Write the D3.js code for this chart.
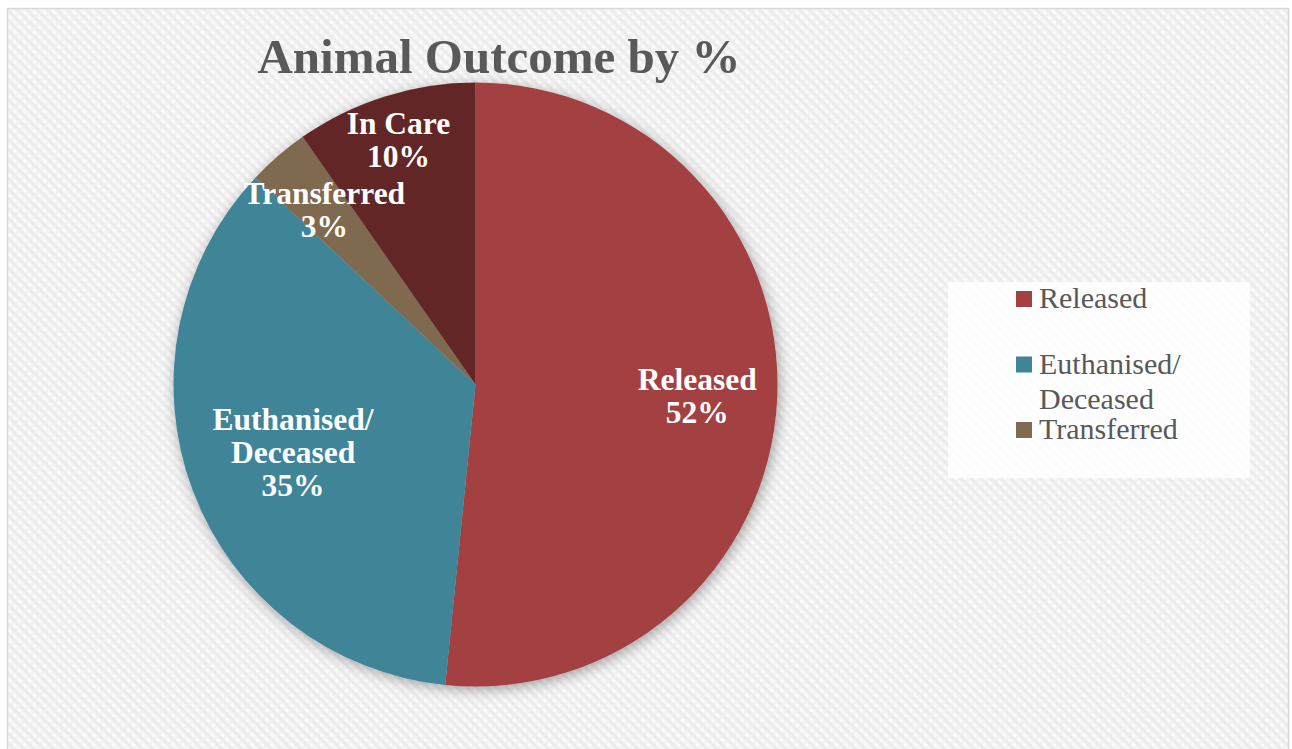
<!DOCTYPE html>
<html><head><meta charset="utf-8">
<script src="https://cdn.jsdelivr.net/npm/d3@7"></script>
<style>html,body{margin:0;padding:0;background:#fff;overflow:hidden}svg{display:block}</style>
</head><body>
<script>
const categories = ["Released", "Euthanised/ Deceased", "Transferred", "In Care"];
const values = [51.6, 35.4, 3.3, 9.7];
const percentLabels = ["52%", "35%", "3%", "10%"];
const legendCategories = ["Released", "Euthanised/ Deceased", "Transferred"];
const colors = ["#a34142", "#418498", "#806a50", "#622826"];
const labelRadiusFactor = [0.735, 0.645, 0.765, 0.85];
const title = "Animal Outcome by %";

const W = 1292, H = 749;
const FONT = "'Liberation Serif', 'DejaVu Serif', serif";
const svg = d3.select("body").append("svg").attr("width", W).attr("height", H);
const defs = svg.append("defs");
const splitName = s => s.split(/(?<=\/)\s+/);

// background carbon-like diagonal pattern
const pat = defs.append("pattern").attr("id", "bg").attr("patternUnits", "userSpaceOnUse")
  .attr("width", 7).attr("height", 7).attr("patternTransform", "rotate(45)");
pat.append("rect").attr("width", 7).attr("height", 7).attr("fill", "#fbfbfb");
pat.append("rect").attr("width", 7).attr("height", 3.5).attr("fill", "#ececec");
pat.append("rect").attr("x", 0).attr("y", 3.5).attr("width", 3.5).attr("height", 3.5).attr("fill", "#f4f4f4");

const filt = defs.append("filter").attr("id", "shadow").attr("x", "-20%").attr("y", "-20%").attr("width", "140%").attr("height", "140%");
filt.append("feDropShadow").attr("dx", 2).attr("dy", 3).attr("stdDeviation", 7)
  .attr("flood-color", "#000").attr("flood-opacity", 0.35);

svg.append("rect").attr("x", 7.5).attr("y", 8.5).attr("width", 1281).attr("height", 780)
  .attr("fill", "url(#bg)").attr("stroke", "#d9d9d9").attr("stroke-width", 1.5);

// title
svg.append("text").attr("x", 499).attr("y", 73).attr("text-anchor", "middle")
  .attr("font-family", FONT).attr("font-weight", "bold").attr("font-size", 49)
  .attr("fill", "#595959").text(title);

// pie
const cx = 475.5, cy = 384.5, R = 302;
const color = d3.scaleOrdinal().domain(categories).range(colors);
const pie = d3.pie().sort(null).value(d => d.value).startAngle(0).endAngle(2 * Math.PI);
const data = categories.map((c, i) => ({ name: c, value: values[i], pct: percentLabels[i], rf: labelRadiusFactor[i] }));
const arcs = pie(data);
const arc = d3.arc().innerRadius(0).outerRadius(R);

const g = svg.append("g").attr("transform", `translate(${cx},${cy})`);
g.append("g").attr("filter", "url(#shadow)").selectAll("path").data(arcs).enter().append("path")
  .attr("d", arc).attr("fill", d => color(d.data.name));

const lines = 1.05;
const fs = 31.5;
arcs.forEach(d => {
  const la = d3.arc().innerRadius(R * d.data.rf).outerRadius(R * d.data.rf);
  const [x, y] = la.centroid(d);
  const txt = splitName(d.data.name).concat([d.data.pct]);
  const n = txt.length;
  const t = g.append("text").attr("text-anchor", "middle").attr("font-family", FONT)
    .attr("font-weight", "bold").attr("font-size", fs).attr("fill", "#fff");
  txt.forEach((s, i) => {
    t.append("tspan").attr("x", x)
      .attr("y", y + (i - (n - 1) / 2) * fs * lines + fs * 0.33).text(s);
  });
});

// legend
svg.append("rect").attr("x", 948).attr("y", 282).attr("width", 302).attr("height", 196)
  .attr("fill", "#fff").attr("opacity", 0.85);
const ly = d3.scalePoint().domain(legendCategories).range([291, 422]);
const lg = svg.append("g");
legendCategories.forEach(c => {
  const y = ly(c);
  lg.append("rect").attr("x", 1016).attr("y", y).attr("width", 16).attr("height", 16).attr("fill", color(c));
  const t = lg.append("text").attr("font-family", FONT).attr("font-size", 30).attr("fill", "#595959");
  splitName(c).forEach((s, i) => {
    t.append("tspan").attr("x", 1039).attr("y", y + 17 + i * 35).text(s);
  });
});
</script>
</body></html>
